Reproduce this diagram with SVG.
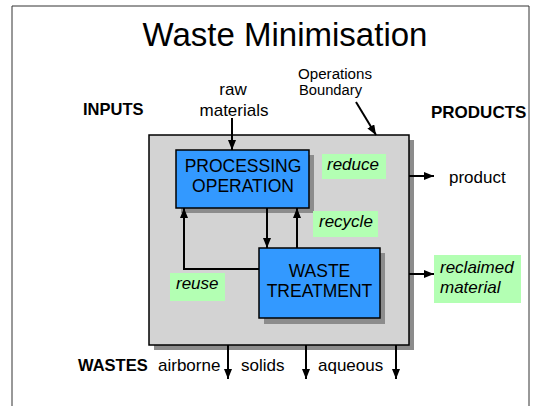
<svg xmlns="http://www.w3.org/2000/svg" width="536" height="406" viewBox="0 0 536 406">
<style>
text{font-family:"Liberation Sans",Arial,sans-serif;fill:#000}
.t17{font-size:17px}
.b{font-weight:bold;font-size:16.5px}
.i{font-style:italic;font-size:17px}
.box{fill:#3399ff;stroke:#000;stroke-width:1.5}
.sh{fill:#8c8c8c}
.lab{fill:#b3ffb3}
.ln{stroke:#000;stroke-width:2;fill:none}
</style>
<defs>
<marker id="ah" markerWidth="10" markerHeight="8" refX="10" refY="4" orient="auto" markerUnits="userSpaceOnUse">
<path d="M0,0 L10,4 L0,8 Z" fill="#000"/>
</marker>
</defs>
<rect x="0" y="0" width="536" height="406" fill="#fff"/>
<path d="M12,410 V6 H529 V410" fill="none" stroke="#333" stroke-width="1"/>
<text x="285" y="46" font-size="33" text-anchor="middle">Waste Minimisation</text>

<g id="boundary">
<rect x="154" y="140" width="260" height="210" class="sh"/>
<rect x="149" y="135" width="260" height="210" fill="#d3d3d3" stroke="#000" stroke-width="1.5"/>
</g>

<g id="labels">
<text x="83" y="115" class="b">INPUTS</text>
<text x="431" y="118" class="b" font-size="17" style="font-size:17px">PRODUCTS</text>
<text x="233" y="95" class="t17" text-anchor="middle">raw</text>
<text x="234" y="116" class="t17" text-anchor="middle">materials</text>
<text x="298" y="79" font-size="14" textLength="74" lengthAdjust="spacingAndGlyphs">Operations</text>
<text x="299" y="95" font-size="14" textLength="63" lengthAdjust="spacingAndGlyphs">Boundary</text>
<text x="449" y="183" class="t17">product</text>
<text x="78" y="371" class="b">WASTES</text>
<text x="158" y="371" class="t17">airborne</text>
<text x="241" y="371" class="t17">solids</text>
<text x="318" y="371" class="t17">aqueous</text>
</g>

<g id="processing">
<rect x="181" y="155" width="133" height="58" class="sh"/>
<rect x="176" y="150" width="133" height="58" class="box"/>
<text x="243" y="172" font-size="17.5" text-anchor="middle">PROCESSING</text>
<text x="243" y="192" font-size="17.5" text-anchor="middle">OPERATION</text>
</g>

<g id="treatment">
<rect x="264" y="253" width="121" height="71" class="sh"/>
<rect x="259" y="248" width="121" height="70" class="box"/>
<text x="319.5" y="277" font-size="17.5" text-anchor="middle">WASTE</text>
<text x="319.5" y="297" font-size="17.5" text-anchor="middle">TREATMENT</text>
</g>

<g id="reduce">
<rect x="322" y="154" width="64" height="25" class="lab"/>
<text x="327" y="170" class="i">reduce</text>
</g>
<g id="recycle">
<rect x="313" y="211" width="65" height="26" class="lab"/>
<text x="319" y="227" class="i">recycle</text>
</g>
<g id="reuse">
<rect x="170" y="273" width="55" height="28" class="lab"/>
<text x="176" y="289" class="i">reuse</text>
</g>
<g id="reclaimed">
<rect x="434" y="255" width="87" height="48" class="lab"/>
<text x="440" y="273" class="i">reclaimed</text>
<text x="440" y="293" class="i">material</text>
</g>

<g id="connectors">
<line x1="232" y1="118" x2="232" y2="150" class="ln" marker-end="url(#ah)"/>
<line x1="356" y1="102" x2="376" y2="135" class="ln" marker-end="url(#ah)"/>
<line x1="267" y1="208" x2="267" y2="248" class="ln" marker-end="url(#ah)"/>
<line x1="297" y1="248" x2="297" y2="208" class="ln" marker-end="url(#ah)"/>
<polyline points="259,269 184,269 184,208" class="ln" marker-end="url(#ah)"/>
<line x1="409" y1="176" x2="434" y2="176" class="ln" marker-end="url(#ah)"/>
<line x1="409" y1="274" x2="434" y2="274" class="ln" marker-end="url(#ah)"/>
<line x1="228" y1="345" x2="228" y2="379" class="ln" marker-end="url(#ah)"/>
<line x1="306" y1="345" x2="306" y2="379" class="ln" marker-end="url(#ah)"/>
<line x1="396" y1="345" x2="396" y2="379" class="ln" marker-end="url(#ah)"/>
</g>
</svg>
